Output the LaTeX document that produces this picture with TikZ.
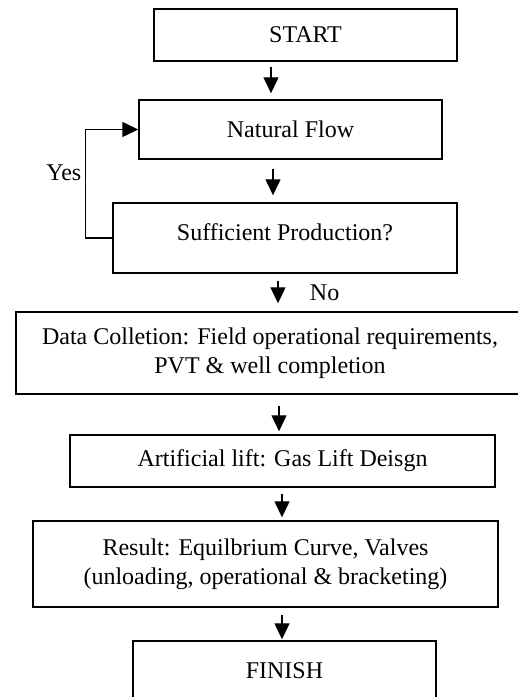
\documentclass[tikz,border=0pt]{standalone}
\usepackage{fontspec}
\setmainfont{Liberation Serif}
\usetikzlibrary{arrows.meta,positioning}

\begin{document}
\begin{tikzpicture}[x=1pt, y=-1pt,
        block/.style={rectangle, draw, line width=1.4pt, align=center,
                      font=\fontsize{24}{29}\selectfont, inner sep=0pt},
        line/.style={draw, line width=1.3pt, -{Triangle[width=15pt,length=16pt]}},
        lbl/.style={font=\fontsize{24}{29}\selectfont}
    ]
    \useasboundingbox (0,0) rectangle (518,697);
    \clip (0,0) rectangle (518,697);

    \node [block, minimum width=303pt, minimum height=52pt] (start) at (305.5,35) {START};
    \node [block, minimum width=303pt, minimum height=59pt] (natural) at (290.5,129.5) {Natural Flow};
    \node [block, minimum width=344pt, minimum height=70pt] (suff) at (285,238) {\raisebox{12pt}{Sufficient Production?}};
    \node [block, minimum width=508pt, minimum height=82pt] (data) at (270,353) {Data Colletion: Field operational requirements,\\PVT \& well completion};
    \node [block, minimum width=425pt, minimum height=52pt] (lift) at (282.5,461) {Artificial lift: Gas Lift Deisgn};
    \node [block, minimum width=465pt, minimum height=86pt] (result) at (265.5,564) {Result: Equilbrium Curve, Valves\\(unloading, operational \& bracketing)};
    \node [block, minimum width=303pt, minimum height=59pt] (finish) at (284.5,670.5) {FINISH};

    \draw [line, shorten <=5pt, shorten >=6pt] ([xshift=-34.5pt]start.south) -- ([xshift=-19.5pt]natural.north);
    \draw [line, shorten <=9pt, shorten >=7pt] ([xshift=-17.5pt]natural.south) -- ([xshift=-12pt]suff.north);
    \draw [line, shorten <=7pt, shorten >=8pt] ([xshift=-7pt]suff.south) -- node[lbl, right=28pt] {No} ([xshift=8pt]data.north);
    \draw [line, shorten <=11pt, shorten >=3pt] ([xshift=9pt]data.south) -- ([xshift=-3.5pt]lift.north);
    \draw [line, shorten <=6pt, shorten >=3pt] ([xshift=-0.5pt]lift.south) -- ([xshift=16.5pt]result.north);
    \draw [line, shorten <=7pt, shorten >=1pt] ([xshift=16.5pt]result.south) -- ([xshift=-2.5pt]finish.north);

    % Yes loop
    \draw [line] (suff.west) -- ++(-27,0) |- node[lbl, pos=0.3, left] {Yes} (natural.west);
\end{tikzpicture}
\end{document}
